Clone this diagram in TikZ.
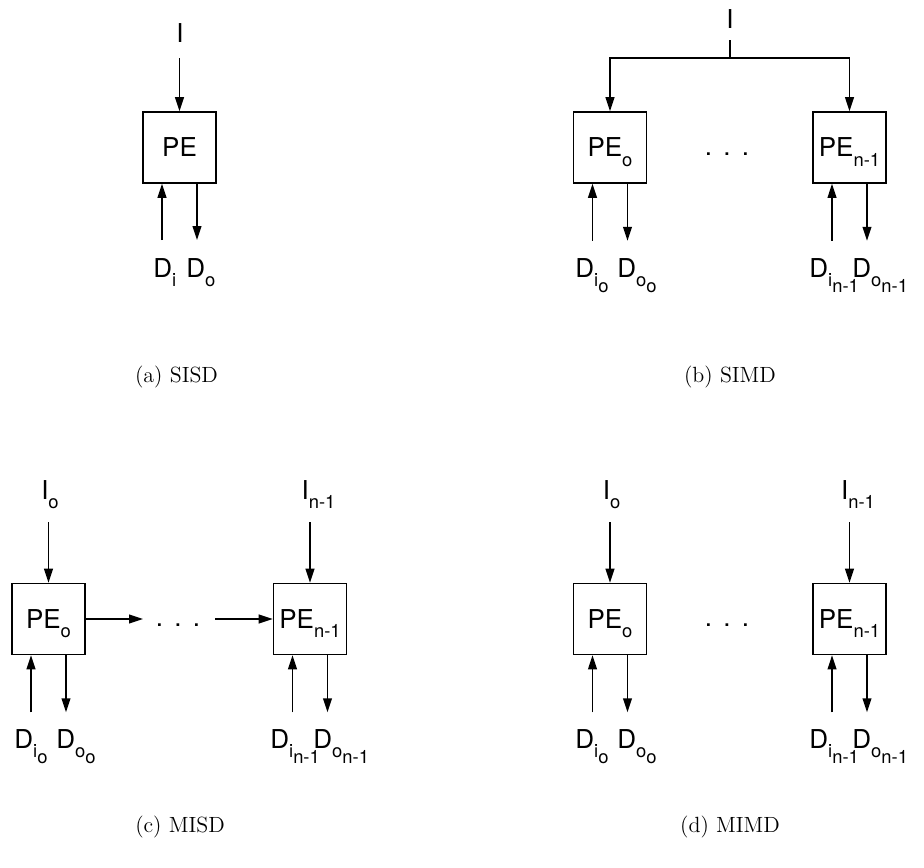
\documentclass[tikz,border=0pt]{standalone}
\usepackage{fontspec}
\newfontfamily\helv{TeX Gyre Heros}
\usetikzlibrary{arrows.meta,positioning,calc}

% lowered subscript that takes no room
\newcommand\lowsub[1]{\raisebox{-0.35em}[0pt][0pt]{\fontsize{9.2}{9.2}\selectfont #1}}

\tikzset{
  pebox/.style={draw, line width=0.8pt, minimum width=36.5pt, minimum height=35.5pt,
    inner sep=0pt, font=\helv\fontsize{13}{13}\selectfont},
  lbl/.style={inner sep=0pt, font=\helv\fontsize{13}{13}\selectfont},
  captext/.style={inner sep=0pt, anchor=base, font=\fontsize{11}{13}\selectfont},
  flow/.style={->, line width=0.75pt},
}

\begin{document}
\begin{tikzpicture}[x=0.5pt, y=-0.5pt, >={Triangle[length=7pt,width=4.4pt]}]
    \useasboundingbox (0,0) rectangle (924,867);

    % (a) SISD
    \node[pebox] (pe) at (179.5,147.5) {PE};
    \node[lbl, anchor=base] (ia) at (180,42) {I};
    \coordinate (ia-top) at (179.5,58);
    \draw[flow] (ia-top) -- (pe.north);
    \coordinate (pe-in) at (162,240);
    \coordinate (pe-out) at (197,240);
    \draw[flow] (pe-in) -- (pe-in |- pe.south);
    \draw[flow] (pe-out |- pe.south) -- (pe-out);
    \node[lbl, anchor=base west] (pe-di) at (153,277) {D\lowsub{i}};
    \node[lbl, anchor=base west] (pe-do) at (186,277) {D\lowsub{o}};
    \node[captext] (capa) at (176.5,382) {(a) SISD};

    % (b) SIMD
    \node[pebox] (pb0) at (610,147.5) {PE\lowsub{o}};
    \node[pebox] (pb1) at (849.5,147.5) {PE\lowsub{n-1}};
    \node[lbl, anchor=base] (ib) at (730,28) {I};
    \coordinate (ib-top) at (730,40);
    \coordinate (ib-join) at (730,58);
    \draw[line width=0.75pt] (ib-top) -- (ib-join);
    \draw[flow] (ib-join) -| (pb0.north);
    \draw[flow] (ib-join) -| (pb1.north);
    \node[lbl, anchor=base] (dotsb) at (727,155) {.\hspace{5.6pt}.\hspace{5.6pt}.};
    \node[captext] (capb) at (730,382) {(b) SIMD};

    % (c) MISD
    \node[pebox] (pc0) at (48.5,619) {PE\lowsub{o}};
    \node[pebox] (pc1) at (310,619) {PE\lowsub{n-1}};
    \node[lbl, anchor=base] (ic0) at (50,499) {I\lowsub{o}};
    \node[lbl, anchor=base] (ic1) at (318.5,499) {I\lowsub{n-1}};
    \coordinate (ic0-top) at (48.5,522);
    \coordinate (ic1-top) at (310,522);
    \draw[flow] (ic0-top) -- (pc0.north);
    \draw[flow] (ic1-top) -- (pc1.north);
    \node[lbl, anchor=base] (dotsc) at (178,626) {.\hspace{5.6pt}.\hspace{5.6pt}.};
    \coordinate (pc0-to) at (143,619);
    \coordinate (pc1-from) at (215,619);
    \draw[flow] (pc0.east) -- (pc0-to);
    \draw[flow] (pc1-from) -- (pc1.west);
    \node[captext] (capc) at (180,832) {(c) MISD};

    % (d) MIMD
    \node[pebox] (pd0) at (610,619) {PE\lowsub{o}};
    \node[pebox] (pd1) at (849.5,619) {PE\lowsub{n-1}};
    \node[lbl, anchor=base] (id0) at (611.5,499) {I\lowsub{o}};
    \node[lbl, anchor=base] (id1) at (858,499) {I\lowsub{n-1}};
    \coordinate (id0-top) at (610,522);
    \coordinate (id1-top) at (849.5,522);
    \draw[flow] (id0-top) -- (pd0.north);
    \draw[flow] (id1-top) -- (pd1.north);
    \node[lbl, anchor=base] (dotsd) at (727,626) {.\hspace{5.6pt}.\hspace{5.6pt}.};
    \node[captext] (capd) at (730,832) {(d) MIMD};

    % Data streams below each PE
    \foreach \b/\s/\xi/\xo/\yb in {pb0/o/575/617/277, pb1/n-1/809/852/277,
                                    pc0/o/14/56/748, pc1/n-1/270/313/748,
                                    pd0/o/575/617/748, pd1/n-1/809/852/748} {
        \coordinate (\b-in) at ([xshift=-8.75pt, yshift=-28.5pt]\b.south);
        \coordinate (\b-out) at ([xshift=8.75pt, yshift=-28.5pt]\b.south);
        \draw[flow] (\b-in) -- (\b-in |- \b.south);
        \draw[flow] (\b-out |- \b.south) -- (\b-out);
        \node[lbl, anchor=base west] (\b-di) at (\xi,\yb) {D\lowsub{i\lowsub{\s}}};
        \node[lbl, anchor=base west] (\b-do) at (\xo,\yb) {D\lowsub{o\lowsub{\s}}};
    }

\end{tikzpicture}
\end{document}
